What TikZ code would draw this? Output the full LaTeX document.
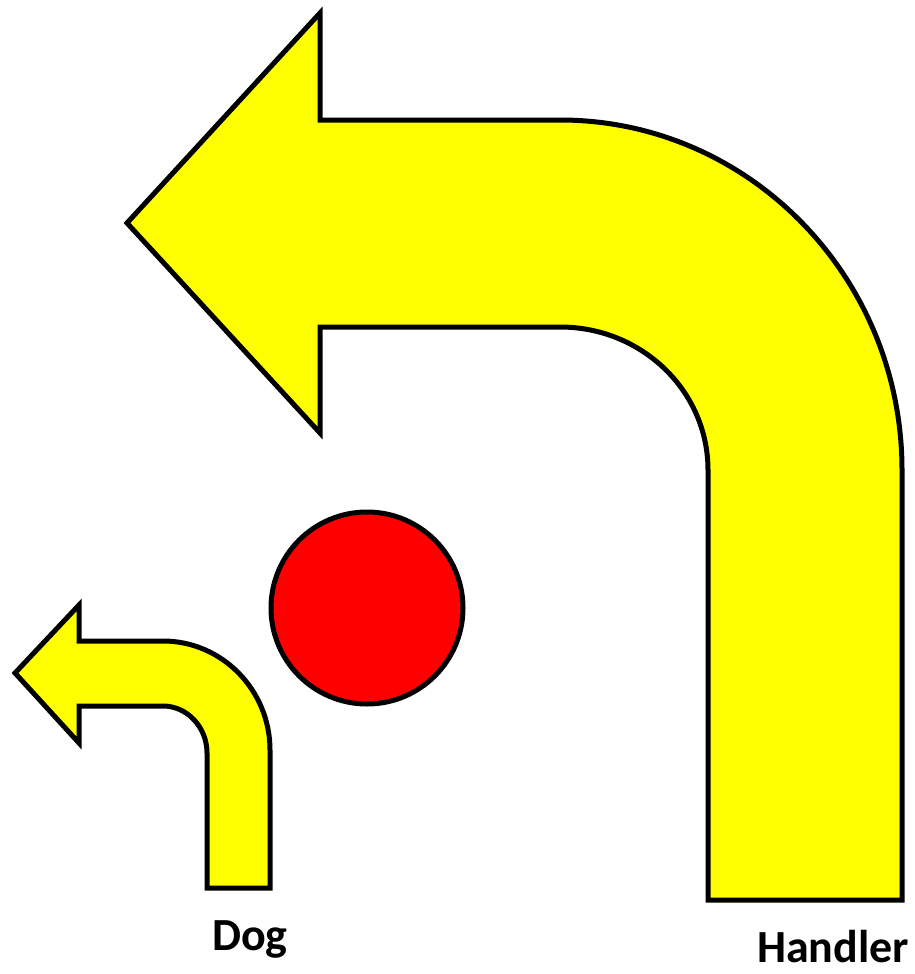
\documentclass[tikz,border=0pt]{standalone}
\usepackage{fontspec}
\setmainfont{Carlito}
\definecolor{arrowyellow}{RGB}{255,255,0}
\definecolor{ballred}{RGB}{255,0,0}
\begin{document}
\begin{tikzpicture}[x=1pt,y=-1pt,
  outlined/.style={draw=black,line width=5pt,line join=miter},
  arrowfill/.style={outlined,fill=arrowyellow},
  txtlabel/.style={font=\fontsize{46}{55}\selectfont\bfseries,inner sep=0pt,anchor=base}]
\useasboundingbox (0,0) rectangle (915,974);
% big arrow (Handler)
\draw[arrowfill] (127,223) -- (320,13) -- (320,120) -- (560,120)
  .. controls (749,120) and (902,277) .. (902,470)
  -- (902,900) -- (708,900) -- (708,470)
  .. controls (708,391) and (642,327) .. (560,327)
  -- (320,327) -- (320,433) -- cycle;
% small arrow (Dog)
\draw[arrowfill] (15,673) -- (79,605) -- (79,641) -- (163,641)
  .. controls (222,641) and (270,690) .. (270,750)
  -- (270,888) -- (207,888) -- (207,753)
  .. controls (207,727) and (187,706) .. (163,706)
  -- (79,706) -- (79,743) -- cycle;
% red ball
\node[outlined,fill=ballred,circle,minimum size=192pt,inner sep=0pt] (ball) at (367,608) {};
% labels
\node[txtlabel] (dog) at (250,950) {Dog};
\node[txtlabel] (handler) at (833,962) {Handler};
\end{tikzpicture}
\end{document}
